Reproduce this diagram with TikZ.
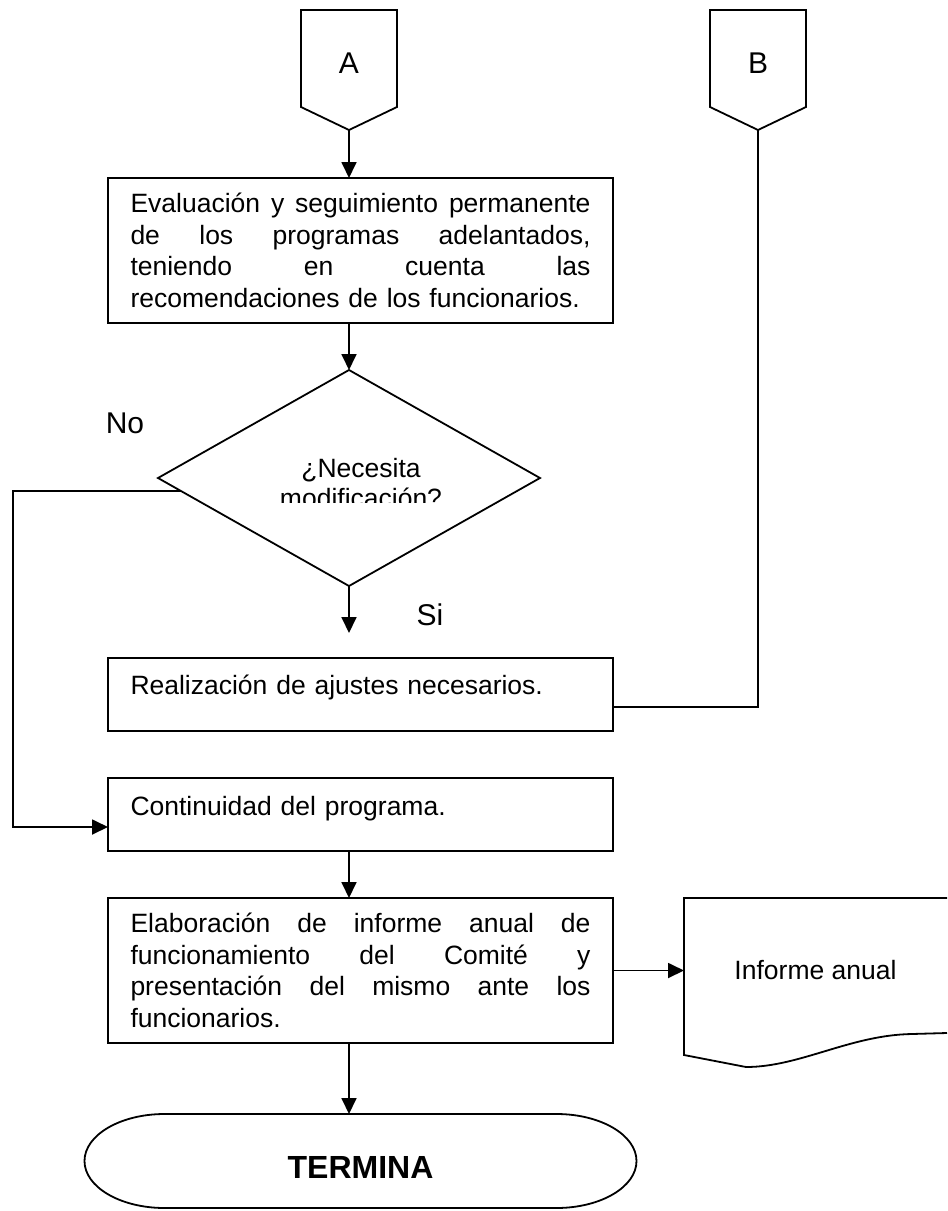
\documentclass[tikz,border=0pt]{standalone}
\usepackage{fontspec}
\setmainfont{Liberation Sans}
\usetikzlibrary{arrows.meta,positioning,shapes.geometric,calc}

% one justified line of fixed width
\newcommand{\jline}[1]{\makebox[230pt][s]{\spaceskip=0pt\relax #1}}

\begin{document}
\begin{tikzpicture}[
    x=0.5pt, y=-0.5pt,
    font=\fontsize{13.25pt}{15.85pt}\selectfont,
    outer sep=0pt,
    conn/.style={rectangle, minimum width=48pt, minimum height=48.5pt, inner sep=0pt, text height=15pt, font=\fontsize{15pt}{18pt}\selectfont},
    box/.style={rectangle, draw=black, line width=0.9pt, minimum width=252.5pt, inner xsep=11.25pt, text width=230pt, align=left},
    tallbox/.style={box, minimum height=72.5pt},
    decision/.style={diamond, draw=black, line width=0.9pt, minimum width=191pt, minimum height=108pt, inner sep=0pt},
    qtext/.style={align=center, inner sep=0pt, font=\fontsize{13.25pt}{15pt}\selectfont},
    lbl/.style={inner sep=0pt, font=\fontsize{15pt}{18pt}\selectfont},
    line/.style={line width=0.9pt},
    arrow/.style={-{Triangle[length=8pt,width=7.5pt]}, line width=0.9pt}
]
\useasboundingbox[fill=white] (0,0) rectangle (948,1211);

% connectors
\node[conn] (conA) at (349,58.5) {A};
\node[conn, right=156.5pt of conA] (conB) {B};
\foreach \c in {conA,conB}
  \draw[line] (\c.north west) -- (\c.north east) -- (\c.south east) -- ([yshift=-11.5pt]\c.south) -- (\c.south west) -- cycle;
\coordinate (tipA) at ([yshift=-11.5pt]conA.south);
\coordinate (tipB) at ([yshift=-11.5pt]conB.south);

% main column
\node[tallbox, below=24pt of tipA, xshift=5.75pt] (eval) {\jline{Evaluación y seguimiento permanente}\\
\jline{de los programas adelantados,}\\
\jline{teniendo en cuenta las}\\
recomendaciones de los funcionarios.};
\node[decision, below=23.5pt of eval, xshift=-5.75pt] (decide) {};
\begin{scope}
  \clip (200,430) rectangle (520,502);
  \node[qtext] (ask) at (361,483) {¿Necesita\\modificación?};
\end{scope}
\coordinate (siEnd) at ([yshift=-23.5pt]decide.south);
\node[box, below=36pt of decide, xshift=5.75pt, inner ysep=0pt, text height=18pt, text depth=18.5pt] (adjust) {Realización de ajustes necesarios.};
\node[box, below=23.5pt of adjust, inner ysep=0pt, text height=18.5pt, text depth=18pt] (cont) {Continuidad del programa.};
\node[tallbox, below=23.5pt of cont] (report) {\jline{Elaboración de informe anual de}\\
\jline{funcionamiento del Comité y}\\
\jline{presentación del mismo ante los}\\
funcionarios.};
\node[rectangle, minimum width=131.5pt, minimum height=72.5pt, inner sep=0pt, right=35.5pt of report] (doc) {Informe anual};
\node[rectangle, minimum width=276pt, minimum height=47pt, inner sep=0pt, text height=17.5pt, font=\fontsize{16pt}{19pt}\selectfont\bfseries, below=35.5pt of report] (fin) {TERMINA};

% labels
\node[lbl] (labNo) at (125,423) {No};
\node[lbl] (labSi) at (430,615) {Si};

% document and terminal outlines
\draw[line] (doc.north east) -- (doc.north west) -- ([yshift=-6pt]doc.south west)
  -- ([xshift=31pt,yshift=-12pt]doc.south west)
  .. controls ([xshift=58pt,yshift=-12pt]doc.south west) and ([xshift=83pt,yshift=4pt]doc.south west) .. ([xshift=114pt,yshift=4.5pt]doc.south west)
  -- ([yshift=5pt]doc.south east);
\draw[line] ([xshift=40pt]fin.north west) -- ([xshift=-40pt]fin.north east)
  arc[start angle=90, end angle=-90, x radius=40pt, y radius=23.5pt]
  -- ([xshift=40pt]fin.south west)
  arc[start angle=270, end angle=90, x radius=40pt, y radius=23.5pt] -- cycle;

% connections
\coordinate (noStart) at ($(decide.west)!0.12!(decide.south)$);
\coordinate (leftRail) at (13,0);
\draw[arrow] (tipA) -- (tipA |- eval.north);
\draw[arrow] (tipA |- eval.south) -- (decide.north);
\draw[arrow] (decide.south) -- (siEnd);
\draw[arrow] (noStart) -- (noStart -| leftRail) |- ([yshift=-6.25pt]cont.west);
\draw[line] (tipB) |- ([yshift=-6.25pt]adjust.east);
\draw[arrow] (tipA |- cont.south) -- (tipA |- report.north);
\draw[arrow] (report.east) -- (doc.west);
\draw[arrow] (tipA |- report.south) -- (tipA |- fin.north);
\end{tikzpicture}
\end{document}
